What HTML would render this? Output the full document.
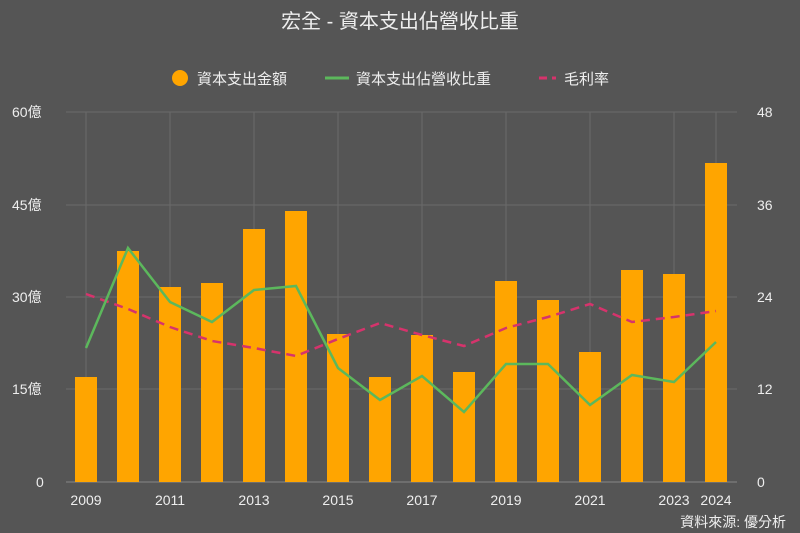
<!DOCTYPE html><html><head><meta charset="utf-8"><style>body{margin:0;background:#555555;}svg{display:block}text{font-family:"Liberation Sans","Noto Sans CJK TC",sans-serif;fill:#eeeeee}</style></head><body>
<svg width="800" height="533" viewBox="0 0 800 533">
<rect width="800" height="533" fill="#555555"/>
<text x="400" y="28" font-size="20" text-anchor="middle" fill="#f0f0f0">宏全 - 資本支出佔營收比重</text>
<circle cx="180" cy="78" r="8" fill="#FFA500"/>
<text x="197" y="84" font-size="15">資本支出金額</text>
<line x1="325" y1="78" x2="349" y2="78" stroke="#5cb85c" stroke-width="3"/>
<text x="356" y="84" font-size="15">資本支出佔營收比重</text>
<line x1="539" y1="78" x2="547" y2="78" stroke="#d6336c" stroke-width="3"/><line x1="552" y1="78" x2="556" y2="78" stroke="#d6336c" stroke-width="3"/>
<text x="564" y="84" font-size="15">毛利率</text>
<g stroke="#6a6a6a" stroke-width="1">
<line x1="66" y1="112" x2="737" y2="112"/><line x1="66" y1="205" x2="737" y2="205"/><line x1="66" y1="297" x2="737" y2="297"/><line x1="66" y1="389" x2="737" y2="389"/><line x1="66" y1="482" x2="737" y2="482" stroke="#888"/>
<line x1="86" y1="112" x2="86" y2="482"/><line x1="170" y1="112" x2="170" y2="482"/><line x1="254" y1="112" x2="254" y2="482"/><line x1="338" y1="112" x2="338" y2="482"/><line x1="422" y1="112" x2="422" y2="482"/><line x1="506" y1="112" x2="506" y2="482"/><line x1="590" y1="112" x2="590" y2="482"/><line x1="674" y1="112" x2="674" y2="482"/><line x1="716" y1="112" x2="716" y2="482"/>
</g>
<g font-size="14">
<text x="12" y="117">60億</text><text x="12" y="210">45億</text><text x="12" y="302">30億</text><text x="12" y="394">15億</text><text x="36" y="487">0</text>
<text x="757" y="117">48</text><text x="757" y="210">36</text><text x="757" y="302">24</text><text x="757" y="394">12</text><text x="757" y="487">0</text>
</g>
<g font-size="14" text-anchor="middle">
<text x="86" y="505">2009</text><text x="170" y="505">2011</text><text x="254" y="505">2013</text><text x="338" y="505">2015</text><text x="422" y="505">2017</text><text x="506" y="505">2019</text><text x="590" y="505">2021</text><text x="674" y="505">2023</text><text x="716" y="505">2024</text>
</g>
<text x="786" y="527" font-size="14" text-anchor="end">資料來源: 優分析</text>
<g fill="#FFA500">
<rect x="75" y="377" width="22" height="105"/><rect x="117" y="251" width="22" height="231"/><rect x="159" y="287" width="22" height="195"/><rect x="201" y="283" width="22" height="199"/><rect x="243" y="229" width="22" height="253"/><rect x="285" y="211" width="22" height="271"/><rect x="327" y="334" width="22" height="148"/><rect x="369" y="377" width="22" height="105"/><rect x="411" y="335" width="22" height="147"/><rect x="453" y="372" width="22" height="110"/><rect x="495" y="281" width="22" height="201"/><rect x="537" y="300" width="22" height="182"/><rect x="579" y="352" width="22" height="130"/><rect x="621" y="270" width="22" height="212"/><rect x="663" y="274" width="22" height="208"/><rect x="705" y="163" width="22" height="319"/>
</g>
<polyline fill="none" stroke="#d6336c" stroke-width="2.5" stroke-dasharray="9,6" points="86,294 128,309 170,327 212,341 254,348 296,356 338,339 380,323 422,335 464,346 506,328 548,317 590,304 632,322 674,317 716,311"/>
<polyline fill="none" stroke="#5cb85c" stroke-width="2.5" points="86,348 128,248 170,302 212,322 254,290 296,286 338,368 380,400 422,376 464,412 506,364 548,364 590,405 632,375 674,382 716,342"/>
</svg></body></html>
